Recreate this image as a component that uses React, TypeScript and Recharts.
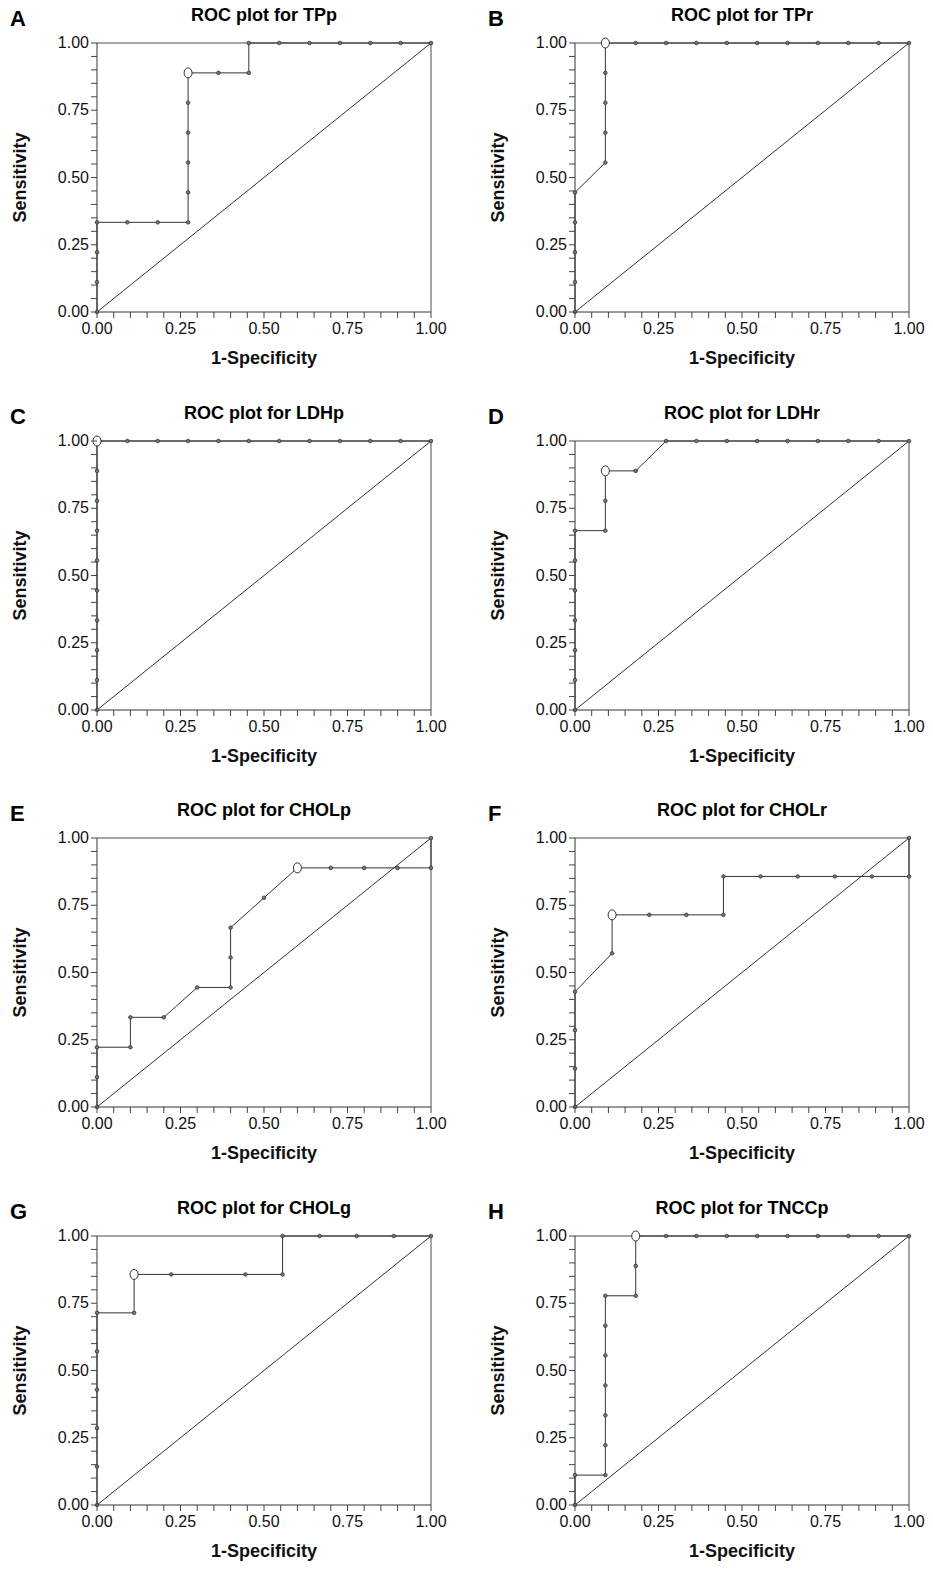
import React from "react";
import {
  ComposedChart,
  Line,
  Scatter,
  XAxis,
  YAxis,
  ReferenceLine,
} from "recharts";

const n11 = (k: number) => k / 11;
const n9 = (k: number) => k / 9;
const s9 = (k: number) => k / 9;
const s7 = (k: number) => k / 7;

// x = 1-specificity, y = sensitivity
const tppX = [0, 0, 0, 0, n11(1), n11(2), n11(3), n11(3), n11(3), n11(3), n11(3), n11(3), n11(4), n11(5), n11(5), n11(6), n11(7), n11(8), n11(9), n11(10), 1];
const tppY = [0, s9(1), s9(2), s9(3), s9(3), s9(3), s9(3), s9(4), s9(5), s9(6), s9(7), s9(8), s9(8), s9(8), 1, 1, 1, 1, 1, 1, 1];
const tprX = [0, 0, 0, 0, 0, n11(1), n11(1), n11(1), n11(1), n11(1), n11(2), n11(3), n11(4), n11(5), n11(6), n11(7), n11(8), n11(9), n11(10), 1];
const tprY = [0, s9(1), s9(2), s9(3), s9(4), s9(5), s9(6), s9(7), s9(8), 1, 1, 1, 1, 1, 1, 1, 1, 1, 1, 1];
const ldhpX = [0, 0, 0, 0, 0, 0, 0, 0, 0, 0, n11(1), n11(2), n11(3), n11(4), n11(5), n11(6), n11(7), n11(8), n11(9), n11(10), 1];
const ldhpY = [0, s9(1), s9(2), s9(3), s9(4), s9(5), s9(6), s9(7), s9(8), 1, 1, 1, 1, 1, 1, 1, 1, 1, 1, 1, 1];
const ldhrX = [0, 0, 0, 0, 0, 0, 0, n11(1), n11(1), n11(1), n11(2), n11(3), n11(4), n11(5), n11(6), n11(7), n11(8), n11(9), n11(10), 1];
const ldhrY = [0, s9(1), s9(2), s9(3), s9(4), s9(5), s9(6), s9(6), s9(7), s9(8), s9(8), 1, 1, 1, 1, 1, 1, 1, 1, 1];
const cholpX = [0, 0, 0, 0.1, 0.1, 0.2, 0.3, 0.4, 0.4, 0.4, 0.5, 0.6, 0.7, 0.8, 0.9, 1, 1];
const cholpY = [0, s9(1), s9(2), s9(2), s9(3), s9(3), s9(4), s9(4), s9(5), s9(6), s9(7), s9(8), s9(8), s9(8), s9(8), s9(8), 1];
const cholrX = [0, 0, 0, 0, n9(1), n9(1), n9(2), n9(3), n9(4), n9(4), n9(5), n9(6), n9(7), n9(8), 1, 1];
const cholrY = [0, s7(1), s7(2), s7(3), s7(4), s7(5), s7(5), s7(5), s7(5), s7(6), s7(6), s7(6), s7(6), s7(6), s7(6), 1];
const cholgX = [0, 0, 0, 0, 0, 0, n9(1), n9(1), n9(2), n9(4), n9(5), n9(5), n9(6), n9(7), n9(8), 1];
const cholgY = [0, s7(1), s7(2), s7(3), s7(4), s7(5), s7(5), s7(6), s7(6), s7(6), s7(6), 1, 1, 1, 1, 1];
const tnccX = [0, 0, n11(1), n11(1), n11(1), n11(1), n11(1), n11(1), n11(1), n11(2), n11(2), n11(2), n11(3), n11(4), n11(5), n11(6), n11(7), n11(8), n11(9), n11(10), 1];
const tnccY = [0, s9(1), s9(1), s9(2), s9(3), s9(4), s9(5), s9(6), s9(7), s9(7), s9(8), 1, 1, 1, 1, 1, 1, 1, 1, 1, 1];

const letters = ["A", "B", "C", "D", "E", "F", "G", "H"];
const titles = ["TPp", "TPr", "LDHp", "LDHr", "CHOLp", "CHOLr", "CHOLg", "TNCCp"];
const xs = [tppX, tprX, ldhpX, ldhrX, cholpX, cholrX, cholgX, tnccX];
const ys = [tppY, tprY, ldhpY, ldhrY, cholpY, cholrY, cholgY, tnccY];
const cutX = [n11(3), n11(1), 0, n11(1), 0.6, n9(1), n9(1), n11(2)];
const cutY = [s9(8), 1, 1, s9(8), s9(8), s7(5), s7(6), 1];

const ticks = Array.from({ length: 21 }, (_, i) => i * 0.05);
const isMajor = (v: number) => Math.abs(v * 4 - Math.round(v * 4)) < 1e-6;

const XTick = (p: any) => {
  const { x, y, payload } = p;
  const major = isMajor(payload.value);
  return (
    <g>
      <line x1={x} x2={x} y1={y} y2={y + 6} stroke="#444" />
      {major && (
        <text x={x} y={y + 22} textAnchor="middle" fontSize={16} fill="#111">
          {payload.value.toFixed(2)}
        </text>
      )}
    </g>
  );
};

const YTick = (p: any) => {
  const { x, y, payload } = p;
  const major = isMajor(payload.value);
  return (
    <g>
      <line x1={x - 6} x2={x} y1={y} y2={y} stroke="#444" />
      {major && (
        <text x={x - 8} y={y + 5} textAnchor="end" fontSize={16} fill="#111">
          {payload.value.toFixed(2)}
        </text>
      )}
    </g>
  );
};

const Dot = (p: any) => (
  <circle cx={p.cx} cy={p.cy} r={1.8} fill="#777" stroke="#333" strokeWidth={0.8} />
);

function Panel({ i }: { i: number }) {
  const data = xs[i].map((x, k) => ({ x, y: ys[i][k] }));
  const cut = [{ x: cutX[i], y: cutY[i] }];
  const col = i % 2;
  const row = Math.floor(i / 2);
  return (
    <div style={{ position: "absolute", left: col * 478, top: row * 397.5, width: 466, height: 397 }}>
      <div style={{ position: "absolute", left: 10, top: 6, fontSize: 22, fontWeight: 700 }}>{letters[i]}</div>
      <div style={{ position: "absolute", left: 97, width: 334, top: 5, textAlign: "center", fontSize: 18, fontWeight: 700 }}>
        ROC plot for {titles[i]}
      </div>
      <ComposedChart width={466} height={397} data={data} margin={{ top: 43, right: 35, bottom: 35, left: 0 }}>
        <XAxis
          dataKey="x"
          type="number"
          domain={[0, 1]}
          ticks={ticks}
          interval={0}
          tick={<XTick />}
          tickLine={false}
          tickSize={0}
          tickMargin={0}
          axisLine={{ stroke: "#333" }}
          height={50}
          label={{ value: "1-Specificity", position: "insideBottom", offset: -2, fontSize: 18, fontWeight: 700, fill: "#111" }}
        />
        <YAxis
          dataKey="y"
          type="number"
          domain={[0, 1]}
          ticks={ticks}
          interval={0}
          tick={<YTick />}
          tickLine={false}
          tickSize={0}
          tickMargin={0}
          axisLine={{ stroke: "#333" }}
          width={97}
          label={{ value: "Sensitivity", angle: -90, position: "insideLeft", offset: 20, dy: 45, fontSize: 18, fontWeight: 700, fill: "#111" }}
        />
        <ReferenceLine y={1} stroke="#888" strokeWidth={1.5} />
        <ReferenceLine x={1} stroke="#888" strokeWidth={1.5} />
        <ReferenceLine segment={[{ x: 0, y: 0 }, { x: 1, y: 1 }]} stroke="#333" />
        <Line dataKey="y" type="linear" stroke="#333" strokeWidth={1} dot={<Dot />} isAnimationActive={false} />
        <Scatter data={cut} dataKey="y" fill="#fff" stroke="#333" shape={(p: any) => <ellipse cx={p.cx} cy={p.cy} rx={4} ry={5} fill="#fff" stroke="#333" />} isAnimationActive={false} />
      </ComposedChart>
    </div>
  );
}

export default function App() {
  return (
    <div style={{ position: "relative", width: 925, height: 1566, fontFamily: "Arial, 'Liberation Sans', sans-serif", background: "#fff" }}>
      <div style={{ position: "absolute", left: -8, top: -8, width: 933, height: 1574 }}>
        {letters.map((_, i) => (
          <Panel key={i} i={i} />
        ))}
      </div>
    </div>
  );
}
